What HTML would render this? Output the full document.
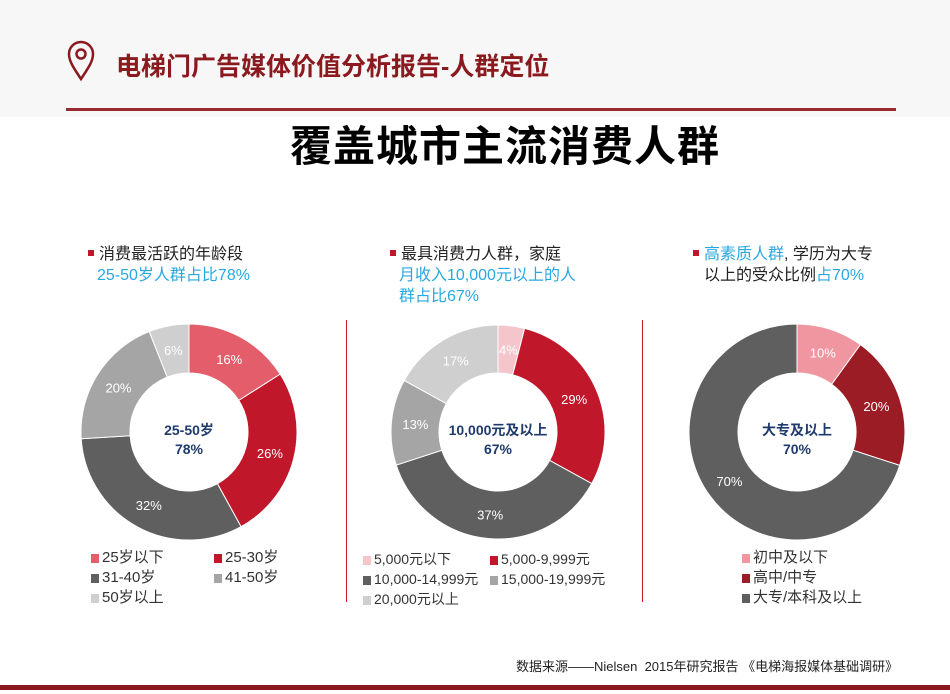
<!DOCTYPE html>
<html><head><meta charset="utf-8"><style>
body{margin:0;width:950px;height:694px;background:#fff;font-family:"Liberation Sans","Noto Sans CJK SC",sans-serif;position:relative;overflow:hidden}
.a{position:absolute;white-space:nowrap}
.hdr{position:absolute;left:0;top:0;width:950px;height:117px;background:#f7f7f7}
.t{font-size:16px;line-height:21px;color:#222}
.b{color:#29a8e0}
.sq{display:inline-block;width:6px;height:6px;background:#c0172b;margin-right:5px;vertical-align:middle;position:relative;top:-2px}
.lg{font-size:15px;color:#333;line-height:20px}
.lg i{display:inline-block;width:8px;height:9px;margin-right:3px;vertical-align:-1px}
</style></head><body>
<div class="hdr"></div>
<svg class="a" style="left:66px;top:40px" width="30" height="42" viewBox="0 0 30 42"><path d="M15 39 C7 27 3 21 3 14 A12 12 0 0 1 27 14 C27 21 23 27 15 39Z" fill="none" stroke="#8b1a1f" stroke-width="2.5"/><circle cx="15" cy="14" r="4.5" fill="none" stroke="#8b1a1f" stroke-width="2.5"/></svg>
<div class="a" style="left:116px;top:47px;font-size:25px;font-weight:bold;color:#8b1a1f">电梯门广告媒体价值分析报告-人群定位</div>
<div class="a" style="left:66px;top:108px;width:830px;height:3px;background:#9b2a2f"></div>
<div class="a" style="left:0;top:113px;width:950px;text-align:center;font-size:42px;font-weight:bold;color:#000;letter-spacing:1px"><span style="position:relative;left:30px">覆盖城市主流消费人群</span></div>

<div class="a t" style="left:88px;top:244px"><span class="sq"></span>消费最活跃的年龄段<br><span class="b" style="margin-left:9px">25-50岁人群占比78%</span></div>
<div class="a t" style="left:390px;top:244px"><span class="sq"></span>最具消费力人群，家庭<br><span class="b" style="margin-left:9px">月收入10,000元以上的人</span><br><span class="b" style="margin-left:9px">群占比67%</span></div>
<div class="a t" style="left:693px;top:244px"><span class="sq"></span><span class="b">高素质人群</span>, 学历为大专<br><span style="margin-left:11px">以上的受众比例</span><span class="b">占70%</span></div>

<div class="a" style="left:346px;top:320px;width:1px;height:282px;background:#c0172b"></div>
<div class="a" style="left:642px;top:320px;width:1px;height:282px;background:#c0172b"></div>

<svg id="s" class="a" style="left:0;top:0" width="950" height="694"></svg>

<div class="a lg" style="left:91px;top:548px"><i style="background:#e35d6a"></i>25岁以下<br><i style="background:#5f5f5f"></i>31-40岁<br><i style="background:#cfcfcf"></i>50岁以上</div>
<div class="a lg" style="left:214px;top:548px"><i style="background:#c0172b"></i>25-30岁<br><i style="background:#a5a5a5"></i>41-50岁</div>
<div class="a lg" style="left:363px;top:549px;font-size:14px"><i style="background:#f4c6cc"></i>5,000元以下<br><i style="background:#5f5f5f"></i>10,000-14,999元<br><i style="background:#cfcfcf"></i>20,000元以上</div>
<div class="a lg" style="left:490px;top:549px;font-size:14px"><i style="background:#c0172b"></i>5,000-9,999元<br><i style="background:#a5a5a5"></i>15,000-19,999元</div>
<div class="a lg" style="left:742px;top:548px"><i style="background:#ef96a0"></i>初中及以下<br><i style="background:#9b1c24"></i>高中/中专<br><i style="background:#5f5f5f"></i>大专/本科及以上</div>

<div class="a" style="left:516px;top:656px;font-size:13px;color:#222">数据来源——Nielsen&nbsp; 2015年研究报告 《电梯海报媒体基础调研》</div>
<div class="a" style="left:0;top:685px;width:950px;height:5px;background:#8b1a1f"></div>

<script>
var s=document.getElementById('s'),h='';
function donut(cx,cy,R,r,data,c1,c2){
 var a=0;
 data.forEach(function(d){
  var a0=a,a1=a+d[0]/100*2*Math.PI;a=a1;
  function p(rad,t){return (cx+rad*Math.sin(t)).toFixed(2)+' '+(cy-rad*Math.cos(t)).toFixed(2)}
  var lg=(a1-a0)>Math.PI?1:0;
  h+='<path d="M'+p(R,a0)+' A'+R+' '+R+' 0 '+lg+' 1 '+p(R,a1)+' L'+p(r,a1)+' A'+r+' '+r+' 0 '+lg+' 0 '+p(r,a0)+'Z" fill="'+d[1]+'" stroke="#fff" stroke-width="1"/>';
  var m=(a0+a1)/2,lr=(R+r)/2;
  h+='<text x="'+(cx+lr*Math.sin(m))+'" y="'+(cy-lr*Math.cos(m)+5)+'" text-anchor="middle" font-size="13" fill="#fff" font-family="Liberation Sans,sans-serif">'+d[0]+'%</text>';
 });
 h+='<text x="'+cx+'" y="'+(cy+3)+'" text-anchor="middle" font-size="14" font-weight="bold" fill="#1f3b6e" font-family="Liberation Sans,Noto Sans CJK SC,sans-serif">'+c1+'</text>';
 h+='<text x="'+cx+'" y="'+(cy+22)+'" text-anchor="middle" font-size="14" font-weight="bold" fill="#1f3b6e" font-family="Liberation Sans,sans-serif">'+c2+'</text>';
}
donut(189,432,108,59,[[16,'#e35d6a'],[26,'#c0172b'],[32,'#5f5f5f'],[20,'#a5a5a5'],[6,'#cfcfcf']],'25-50岁','78%');
donut(498,432,107,59,[[4,'#f4c6cc'],[29,'#c0172b'],[37,'#5f5f5f'],[13,'#a5a5a5'],[17,'#cfcfcf']],'10,000元及以上','67%');
donut(797,432,108,59,[[10,'#ef96a0'],[20,'#9b1c24'],[70,'#5f5f5f']],'大专及以上','70%');
s.innerHTML=h;
</script>
</body></html>
